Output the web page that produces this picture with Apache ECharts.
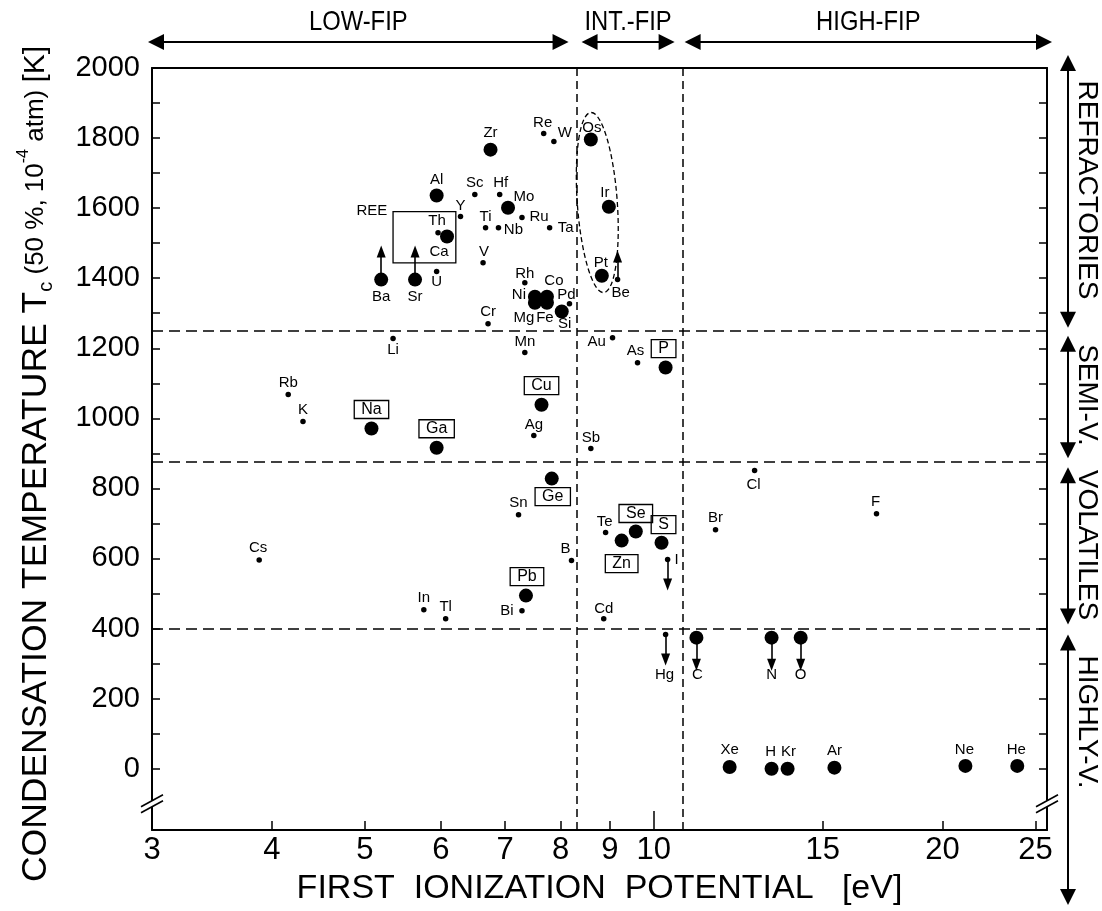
<!DOCTYPE html>
<html>
<head>
<meta charset="utf-8">
<script src="https://cdn.jsdelivr.net/npm/echarts@6/dist/echarts.min.js"></script>
<style>
  html, body { margin: 0; padding: 0; background: #fff; }
  #chart { width: 1102px; height: 911px; }
</style>
</head>
<body>
<div id="chart"></div>
<script>
// ---- Elements plotted with large dots: first ionization potential [eV], condensation temperature [K]
const bigNames = ['Zr','Al','Mo','Ca','Ba','Sr','Ni','Co','Mg','Fe','Si','Os','Ir','Pt','Na','Ga','Cu','Ge','Pb','Zn','Se','S','P','C','N','O','Xe','H','Kr','Ar','Ne','He'];
const bigFip   = [6.76,5.94,7.05,6.09,5.20,5.64,7.52,7.74,7.52,7.74,8.02,8.60,8.98,8.83,5.08,5.94,7.64,7.83,7.36,9.26,9.58,10.19,10.29,11.08,13.27,14.23,12.00,13.27,13.79,15.43,21.13,23.93];
const bigTc    = [1767,1636,1601,1519,1396,1396,1347,1347,1330,1330,1305,1796,1604,1407,971,916,1039,828,494,651,677,645,1145,374,374,374,5,0,0,3,8,8];

// ---- Elements plotted with small dots
const smallNames = ['Re','W','Sc','Hf','Y','Ti','Nb','Ru','Ta','Th','V','U','Rh','Pd','Cr','Be','Li','Mn','Au','As','Rb','K','Ag','Sb','Cl','F','Br','Sn','Te','B','I','Cs','In','Tl','Bi','Cd','Hg'];
const smallFip   = [7.68,7.87,6.51,6.91,6.29,6.68,6.89,7.29,7.79,5.96,6.64,5.94,7.34,8.17,6.72,9.17,5.35,7.34,9.06,9.62,4.16,4.31,7.50,8.60,12.74,17.07,11.60,7.23,8.91,8.21,10.34,3.88,5.76,6.07,7.29,8.87,10.29];
const smallTc    = [1813,1790,1639,1639,1576,1544,1544,1573,1544,1530,1444,1419,1387,1327,1270,1396,1228,1188,1230,1159,1068,991,951,914,851,728,682,725,674,594,597,596,454,428,451,428,383];

// Elements whose names are framed
const boxedNames = ['Na','Ga','Cu','Ge','Pb','Se','S','Zn','P'];

// Limits: arrows pointing up (lower limits) and down (upper limits), length in K
const upNames = ['Ba','Sr','Be'];
const upLen   = [80, 80, 66];
const downNames = ['I','Hg','C','N','O'];
const downLen   = [71, 71, 77, 77, 77];

// FIP class boundaries [eV] and volatility class boundaries [K]
const fipBounds = [8.31, 10.72];
const tcBounds  = [1250, 875, 400];
const fipClasses = ['LOW-FIP', 'INT.-FIP', 'HIGH-FIP'];
const volClasses = ['REFRACTORIES', 'SEMI-V.', 'VOLATILES', 'HIGHLY-V.'];

// REE box corners [eV, K]
const reeBox = [[5.35, 1590], [6.22, 1444]];
// Dashed envelope around Os–Ir–Pt: end points [eV, K]
const pgmEnvelope = [[8.60, 1873], [8.87, 1359]];

// Axis ticks
const xTicks = [3, 4, 5, 6, 7, 8, 9, 10, 15, 20, 25];
const yTickLabels = [0, 200, 400, 600, 800, 1000, 1200, 1400, 1600, 1800, 2000];
const yTicks = [0,100,200,300,400,500,600,700,800,900,1000,1100,1200,1300,1400,1500,1600,1700,1800,1900,2000];

// ---- label placement (pixel offset of each name from its dot)
const labelOffset = {
  Zr:[0,-17], Al:[0,-16], Mo:[16,-11], Ca:[-8,15], Ba:[0,17], Sr:[0,17], Ni:[-16,-2], Co:[7,-16],
  Mg:[-11,15], Fe:[-2,15], Si:[3,12], Os:[1,-12], Ir:[-4,-14], Pt:[-1,-13], Na:[0,-19], Ga:[0,-19],
  Cu:[0,-19], Ge:[1,18], Pb:[1,-19], Zn:[0,23], Se:[0,-18], S:[2,-18], P:[-2,-19], C:[1,37], N:[0,37],
  O:[0,37], Xe:[0,-17], H:[-1,-17], Kr:[1,-17], Ar:[0,-17], Ne:[-1,-16], He:[-1,-16],
  Re:[-1,-11], W:[11,-9], Sc:[0,-12], Hf:[1,-12], Y:[0,-11], Ti:[0,-11], Nb:[15,2], Ru:[17,-1],
  Ta:[16,0], Th:[-1,-12], V:[1,-11], U:[0,10], Rh:[0,-9], Pd:[-3,-9], Cr:[0,-12], Be:[3,13],
  Li:[0,11], Mn:[0,-11], Au:[-16,4], As:[-2,-12], Rb:[0,-12], K:[0,-12], Ag:[0,-11], Sb:[0,-11],
  Cl:[-1,14], F:[-1,-12], Br:[0,-12], Sn:[0,-12], Te:[-1,-11], B:[-6,-12], I:[9,0], Cs:[-1,-12],
  In:[0,-12], Tl:[0,-12], Bi:[-15,0], Cd:[0,-10], Hg:[-1,40]
};

const FONT = '"Liberation Sans", Arial, sans-serif';
const INK = '#000';

function makePoints(names, xs, ys) {
  return names.map((n, i) => {
    const boxed = boxedNames.includes(n);
    return {
      name: n,
      value: [xs[i], ys[i]],
      label: boxed ? {
        offset: labelOffset[n] || [0, -12],
        fontSize: 16,
        borderColor: INK, borderWidth: 1.3,
        padding: [2, 7, 0, 7]
      } : { offset: labelOffset[n] || [0, -12] }
    };
  });
}

function limitArrows(names, lens, sign) {
  return names.map((n, i) => {
    let k = bigNames.indexOf(n), x, y;
    if (k >= 0) { x = bigFip[k]; y = bigTc[k]; }
    else { k = smallNames.indexOf(n); x = smallFip[k]; y = smallTc[k]; }
    return [{ coord: [x, y] }, { coord: [x, y + sign * lens[i]] }];
  });
}

const labelBase = {
  show: true, position: 'inside', formatter: '{b}',
  color: INK, fontFamily: FONT, fontSize: 15, textBorderWidth: 0
};

const chart = echarts.init(document.getElementById('chart'), null, { renderer: 'canvas' });

const option = {
  animation: false,
  backgroundColor: '#fff',
  grid: { left: 152, right: 55, top: 68, bottom: 81, containLabel: false },
  xAxis: [
    {
      type: 'log', logBase: 10, min: 3, max: 25.7, position: 'bottom',
      axisLine: { show: true, onZero: false, lineStyle: { color: INK, width: 2 } },
      axisTick: { show: true, inside: true, length: 9, customValues: xTicks, lineStyle: { color: INK, width: 1.5 } },
      axisLabel: { customValues: xTicks, color: INK, fontFamily: FONT, fontSize: 31, margin: 5,
                   formatter: v => String(Math.round(v)) },
      splitLine: { show: false }, minorTick: { show: false },
      name: 'FIRST  IONIZATION  POTENTIAL   [eV]', nameLocation: 'middle', nameGap: 42,
      nameTextStyle: { color: INK, fontFamily: FONT, fontSize: 34, verticalAlign: 'top' }
    },
    {
      type: 'log', logBase: 10, min: 3, max: 25.7, position: 'top',
      axisLine: { show: true, onZero: false, lineStyle: { color: INK, width: 2 } },
      axisTick: { show: false }, axisLabel: { show: false }, splitLine: { show: false }
    },
    {
      type: 'log', logBase: 10, min: 3, max: 25.7, position: 'bottom',
      axisLine: { show: false, onZero: false },
      axisTick: { show: true, inside: true, length: 19, customValues: [10], lineStyle: { color: INK, width: 1.5 } },
      axisLabel: { show: false }, splitLine: { show: false }
    }
  ],
  yAxis: [
    {
      type: 'value', min: -175, max: 2000, position: 'left',
      axisLine: { show: true, onZero: false, lineStyle: { color: INK, width: 2 } },
      axisTick: { show: true, inside: true, length: 8, customValues: yTicks, lineStyle: { color: INK, width: 1.5 } },
      axisLabel: { customValues: yTickLabels, color: INK, fontFamily: FONT, fontSize: 29, margin: 12,
                   formatter: v => String(Math.round(v)) },
      splitLine: { show: false },
      name: '{a|CONDENSATION TEMPERATURE T}{s|c}{m| (50 %, 10}{p|-4}{m| atm) }{k|[K]}',
      nameLocation: 'middle', nameRotate: 90, nameGap: 96,
      nameTextStyle: {
        color: INK,
        padding: [0, 30, 0, 0],
        rich: {
          a: { fontFamily: FONT, fontSize: 35.5, color: INK, lineHeight: 40, verticalAlign: 'middle' },
          s: { fontFamily: FONT, fontSize: 20, color: INK, lineHeight: 40, verticalAlign: 'bottom' },
          m: { fontFamily: FONT, fontSize: 26, color: INK, lineHeight: 40, verticalAlign: 'middle' },
          p: { fontFamily: FONT, fontSize: 16, color: INK, lineHeight: 40, verticalAlign: 'top' },
          k: { fontFamily: FONT, fontSize: 30, color: INK, lineHeight: 40, verticalAlign: 'middle' }
        }
      }
    },
    {
      type: 'value', min: -175, max: 2000, position: 'right',
      axisLine: { show: true, onZero: false, lineStyle: { color: INK, width: 2 } },
      axisTick: { show: true, inside: true, length: 8, customValues: yTicks, lineStyle: { color: INK, width: 1.5 } },
      axisLabel: { show: false }, splitLine: { show: false }
    }
  ],
  series: [
    {
      name: 'class boundaries', type: 'scatter', data: [], silent: true,
      markLine: {
        silent: true, symbol: ['none', 'none'], label: { show: false },
        lineStyle: { color: INK, width: 1.5 },
        data: fipBounds.map(v => ({ xAxis: v, lineStyle: { type: [8, 5] } }))
          .concat(tcBounds.map(v => ({ yAxis: v, lineStyle: { type: [11, 6] } })))
      },
      markArea: {
        silent: true,
        label: { show: true, position: [-36, -8], formatter: 'REE', color: INK, fontFamily: FONT, fontSize: 15 },
        itemStyle: { color: 'rgba(0,0,0,0)', borderColor: INK, borderWidth: 1.3 },
        data: [[{ name: 'REE', coord: reeBox[0] }, { coord: reeBox[1] }]]
      }
    },
    {
      name: 'large', type: 'scatter', symbol: 'circle', symbolSize: 14,
      itemStyle: { color: INK, opacity: 1 },
      label: labelBase,
      data: makePoints(bigNames, bigFip, bigTc)
    },
    {
      name: 'small', type: 'scatter', symbol: 'circle', symbolSize: 5.5,
      itemStyle: { color: INK, opacity: 1 },
      label: labelBase,
      data: makePoints(smallNames, smallFip, smallTc),
      markLine: {
        silent: true, symbol: ['none', 'triangle'], symbolSize: [9, 12], label: { show: false },
        lineStyle: { color: INK, width: 1.6, type: 'solid' },
        data: limitArrows(upNames, upLen, 1).concat(limitArrows(downNames, downLen, -1))
      }
    }
  ]
};

chart.setOption(option);

// ---- decorations outside the data area: class arrows, envelope, axis breaks
const toPx = (x, y) => chart.convertToPixel({ seriesIndex: 1 }, [x, y]);
const gl = 152, gr = 1102 - 55;
const g = [];
const lineStyle = { stroke: INK, lineWidth: 2 };

function head(x, y, dir) {
  // filled triangular arrow head, tip at (x, y)
  const L = 16, W = 8;
  const pts = {
    left:  [[x, y], [x + L, y - W], [x + L, y + W]],
    right: [[x, y], [x - L, y - W], [x - L, y + W]],
    up:    [[x, y], [x - W, y + L], [x + W, y + L]],
    down:  [[x, y], [x - W, y - L], [x + W, y - L]]
  }[dir];
  return { type: 'polygon', shape: { points: pts }, style: { fill: INK }, silent: true };
}
function hArrow(x1, x2, y) {
  g.push({ type: 'line', shape: { x1: x1 + 4, y1: y, x2: x2 - 4, y2: y }, style: lineStyle, silent: true });
  g.push(head(x1, y, 'left'), head(x2, y, 'right'));
}
function vArrow(x, y1, y2) {
  g.push({ type: 'line', shape: { x1: x, y1: y1 + 4, x2: x, y2: y2 - 4 }, style: lineStyle, silent: true });
  g.push(head(x, y1, 'up'), head(x, y2, 'down'));
}

const b1 = toPx(fipBounds[0], 0)[0], b2 = toPx(fipBounds[1], 0)[0];
const topY = 42;
const fipSpans = [[gl - 4, b1 - 8], [b1 + 5, b2 - 8], [b2 + 2, gr + 5]];
fipSpans.forEach((s, i) => {
  hArrow(s[0], s[1], topY);
  g.push({ type: 'text', x: (s[0] + s[1]) / 2, y: 22, scaleX: 0.85, silent: true,
    style: { text: fipClasses[i], fill: INK, font: '28px ' + FONT, align: 'center', verticalAlign: 'middle' } });
});

const h1 = toPx(3, tcBounds[0])[1], h2 = toPx(3, tcBounds[1])[1], h3 = toPx(3, tcBounds[2])[1];
const sideX = 1068;
const volSpans = [[55, h1 - 3], [h1 + 5, h2 - 4], [h2 + 5, h3 - 4], [h3 + 6, 905]];
const volTextY = [190, 395, 545, 722];
volSpans.forEach((s, i) => {
  vArrow(sideX, s[0], s[1]);
  g.push({ type: 'text', x: 1087, y: volTextY[i], rotation: -Math.PI / 2, silent: true,
    style: { text: volClasses[i], fill: INK, font: '28px ' + FONT, align: 'center', verticalAlign: 'middle' } });
});

// dashed envelope around the platinum-group metals
const e1 = toPx(pgmEnvelope[0][0], pgmEnvelope[0][1]);
const e2 = toPx(pgmEnvelope[1][0], pgmEnvelope[1][1]);
const ecx = (e1[0] + e2[0]) / 2, ecy = (e1[1] + e2[1]) / 2;
const ery = Math.hypot(e2[0] - e1[0], e2[1] - e1[1]) / 2;
g.push({ type: 'ellipse', x: ecx, y: ecy, rotation: Math.atan2(e2[0] - e1[0], e2[1] - e1[1]), silent: true,
  shape: { cx: 0, cy: 0, rx: 20, ry: ery },
  style: { fill: 'none', stroke: INK, lineWidth: 1.3, lineDash: [5, 3] } });

// axis break marks on both vertical axes
const by = toPx(3, -100)[1];
[gl, gr].forEach(ax => {
  g.push({ type: 'rect', shape: { x: ax - 3, y: by - 3, width: 6, height: 6 }, style: { fill: '#fff' }, silent: true, z: 100 });
  g.push({ type: 'line', shape: { x1: ax - 11, y1: by + 3, x2: ax + 11, y2: by - 9 }, style: { stroke: INK, lineWidth: 1.6 }, silent: true, z: 101 });
  g.push({ type: 'line', shape: { x1: ax - 11, y1: by + 9, x2: ax + 11, y2: by - 3 }, style: { stroke: INK, lineWidth: 1.6 }, silent: true, z: 101 });
});

chart.setOption({ graphic: { elements: g } });
</script>
</body>
</html>
